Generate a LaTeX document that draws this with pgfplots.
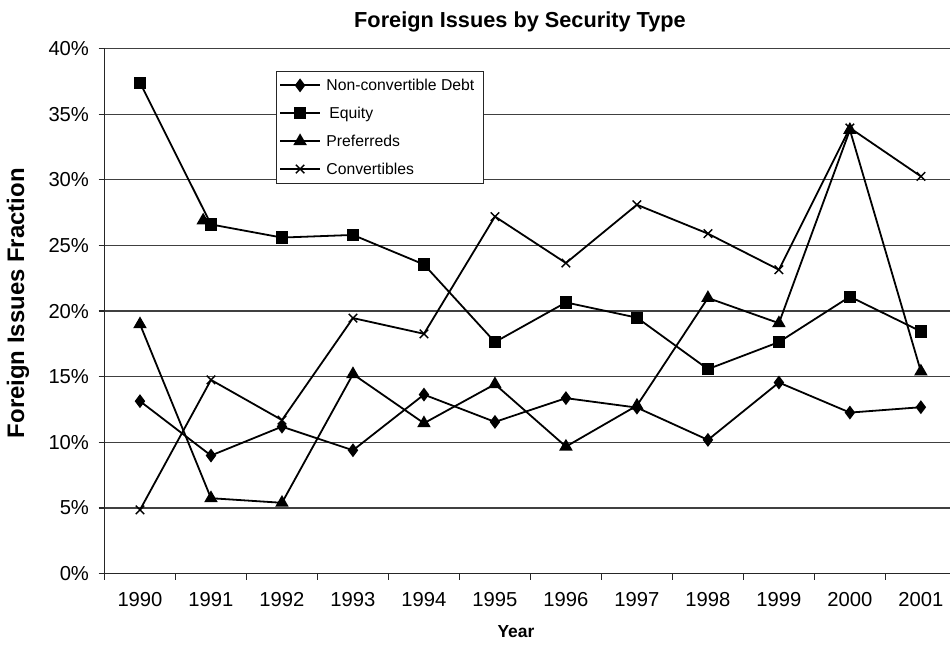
\documentclass[border=0pt]{standalone}
\usepackage{fontspec}
\setmainfont{Liberation Sans}
\usepackage{pgfplots}
\pgfplotsset{compat=1.18}
\begin{document}
\begin{tikzpicture}
\useasboundingbox[fill=white] (0,0) rectangle (950bp,645bp);
\begin{axis}[
  at={(104.5bp,71.3bp)}, anchor=south west,
  scale only axis, width=845.5bp, height=525.2bp,
  xmin=-0.5, xmax=11.41, ymin=0, ymax=40,
  axis x line*=bottom, axis y line*=left,
  axis line style={-, line width=1.3bp, black!85},
  tick align=outside,
  major tick length=6bp, minor tick length=6bp,
  xtick={0,...,11},
  xticklabels={1990,1991,1992,1993,1994,1995,1996,1997,1998,1999,2000,2001},
  major x tick style={draw=none},
  minor xtick={-0.5,0.5,...,10.5},
  minor x tick style={draw=black!85, line width=1.2bp},
  major y tick style={draw=black!85, line width=1.2bp},
  ytick={0,5,...,40},
  yticklabel={\pgfmathprintnumber[assume math mode=true]{\tick}\%},
  ymajorgrids,
  grid style={line width=1.2bp, black!75},
  ticklabel style={font=\fontsize{20.3}{24}\selectfont},
  xticklabel style={yshift=-9bp},
  yticklabel style={xshift=-6bp},
  title={Foreign Issues by Security Type},
  title style={font=\bfseries\fontsize{21.8}{25}\selectfont, at={(axis description cs:0.4914,1)}, anchor=center, yshift=20.5bp},
  xlabel={Year},
  xlabel style={font=\bfseries\fontsize{17.5}{20}\selectfont, at={(axis description cs:0.4866,0)}, anchor=center, yshift=-58bp},
  ylabel={Foreign Issues Fraction},
  ylabel style={font=\bfseries\fontsize{24}{28}\selectfont, at={(axis description cs:-0.1023,0.515)}, anchor=center},
  legend style={at={(axis description cs:0.2028,0.9577)}, anchor=north west,
    draw=black!85, fill=white, inner xsep=3bp, inner ysep=7bp, row sep=13bp,
    font=\fontsize{15.8}{18}\selectfont, legend cell align=left,
    nodes={inner xsep=5.5bp, inner ysep=1bp}},
  legend image code/.code={\draw[line width=1.8bp, mark repeat=2,mark phase=2] plot coordinates {(0bp,0bp)(20bp,0bp)(40bp,0bp)};},
  every axis plot/.append style={line width=1.8bp, black},
]
\addplot[mark=diamond*, mark size=5.5bp, mark options={solid}] coordinates {
(0,13.14)(1,9.0)(2,11.2)(3,9.4)(4,13.64)(5,11.56)(6,13.37)(7,12.65)(8,10.19)(9,14.56)(10,12.27)(11,12.68)};
\addlegendentry{Non-convertible Debt}
\addplot[mark=square*, mark size=5.2bp, mark options={solid}] coordinates {
(0,37.4)(1,26.6)(2,25.6)(3,25.8)(4,23.55)(5,17.64)(6,20.66)(7,19.5)(8,15.58)(9,17.64)(10,21.1)(11,18.45)};
\addlegendentry{\hspace{3bp}Equity}
\addplot[mark=triangle*, mark size=6bp, mark options={solid}] coordinates {
(0,19.0)(1,5.75)(2,5.4)(3,15.2)(4,11.46)(5,14.43)(6,9.68)(7,12.8)(8,21.0)(9,19.08)(10,33.8)(11,15.4)};
\addlegendentry{Preferreds}
\addplot[mark=x, mark size=6bp, mark options={solid, line width=1.4bp}] coordinates {
(0,4.86)(1,14.76)(2,11.7)(3,19.47)(4,18.27)(5,27.2)(6,23.66)(7,28.1)(8,25.9)(9,23.15)(10,33.95)(11,30.26)};
\addlegendentry{Convertibles}
\addplot[only marks, mark=triangle*, mark size=6bp, forget plot] coordinates {(0.89,26.9)};
\end{axis}
\end{tikzpicture}
\end{document}
